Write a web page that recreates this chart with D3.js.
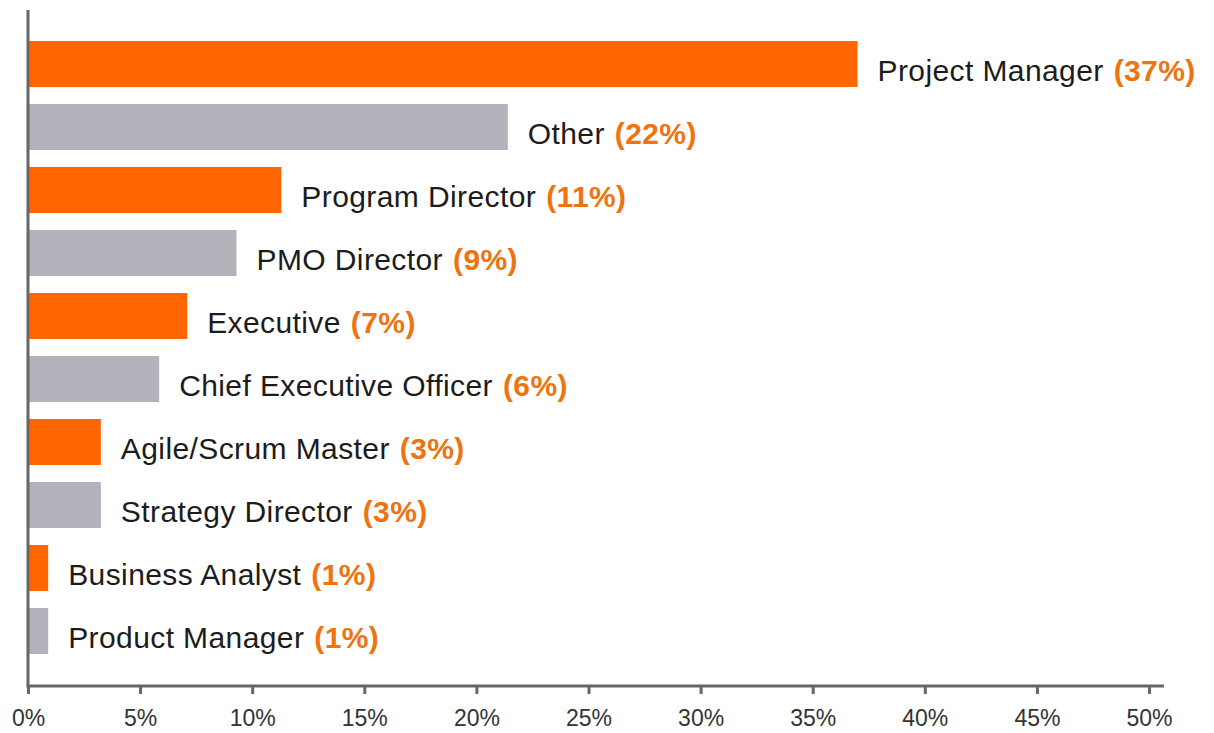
<!DOCTYPE html>
<html>
<head>
<meta charset="utf-8">
<script src="https://cdn.jsdelivr.net/npm/d3@7"></script>
<style>
  html, body { margin: 0; padding: 0; background: #ffffff; }
  svg { display: block; }
</style>
</head>
<body>
<div id="chart"></div>
<script>
// ---- Data ----
const categories = [
  "Project Manager", "Other", "Program Director", "PMO Director", "Executive",
  "Chief Executive Officer", "Agile/Scrum Master", "Strategy Director",
  "Business Analyst", "Product Manager"
];
const values = [37.0, 21.4, 11.3, 9.3, 7.1, 5.85, 3.25, 3.25, 0.9, 0.9];
const valueLabels = ["37%", "22%", "11%", "9%", "7%", "6%", "3%", "3%", "1%", "1%"];
const tickValues = [0, 5, 10, 15, 20, 25, 30, 35, 40, 45, 50];
const tickLabels = ["0%", "5%", "10%", "15%", "20%", "25%", "30%", "35%", "40%", "45%", "50%"];

// ---- Layout ----
const W = 1214, H = 733;
const x0 = 28, x50 = 1149;
const axisY = 686;

const svg = d3.select("#chart").append("svg")
  .attr("width", W).attr("height", H);

const x = d3.scaleLinear().domain([0, 50]).range([x0, x50]);
const y = d3.scaleBand().domain(categories).range([41, 654])
  .paddingInner(0.27).paddingOuter(0);

const orange = "#FF6600", gray = "#B2B2BB";
const pctColor = "#EE7410";
const axisColor = "#666666";

// Bars
svg.append("g").selectAll("rect")
  .data(categories)
  .join("rect")
  .attr("x", x(0))
  .attr("y", d => y(d))
  .attr("width", (d, i) => x(values[i]) - x(0))
  .attr("height", y.bandwidth())
  .attr("fill", (d, i) => i % 2 === 0 ? orange : gray);

// Labels
const lab = svg.append("g").selectAll("text")
  .data(categories)
  .join("text")
  .attr("x", (d, i) => x(values[i]) + 20)
  .attr("y", d => y(d) + y.bandwidth() / 2 + 17)
  .attr("font-family", "'Liberation Sans', Arial, Helvetica, sans-serif")
  .attr("font-size", 30)
  .attr("letter-spacing", 0.4)
  .attr("fill", "#1c1c1c");
lab.append("tspan").text(d => d);
lab.append("tspan")
  .attr("dx", 10)
  .attr("font-weight", "bold")
  .attr("fill", pctColor)
  .text((d, i) => "(" + valueLabels[i] + ")");

// X axis
const xAxis = d3.axisBottom(x)
  .tickValues(tickValues)
  .tickFormat((d, i) => tickLabels[i])
  .tickSize(8)
  .tickSizeOuter(0)
  .tickPadding(16);

const gx = svg.append("g")
  .attr("transform", `translate(0,${axisY})`)
  .call(xAxis);
gx.select(".domain").remove();
gx.selectAll(".tick line").attr("stroke", axisColor).attr("stroke-width", 3);
gx.selectAll(".tick text")
  .attr("font-family", "'Liberation Sans', Arial, Helvetica, sans-serif")
  .attr("font-size", 23)
  .attr("fill", "#333333");

// Axis lines
svg.append("line")
  .attr("x1", x0 - 1.5).attr("x2", 1164)
  .attr("y1", axisY).attr("y2", axisY)
  .attr("stroke", axisColor).attr("stroke-width", 3);
svg.append("line")
  .attr("x1", x0).attr("x2", x0)
  .attr("y1", 10).attr("y2", axisY)
  .attr("stroke", axisColor).attr("stroke-width", 3);
</script>
</body>
</html>
